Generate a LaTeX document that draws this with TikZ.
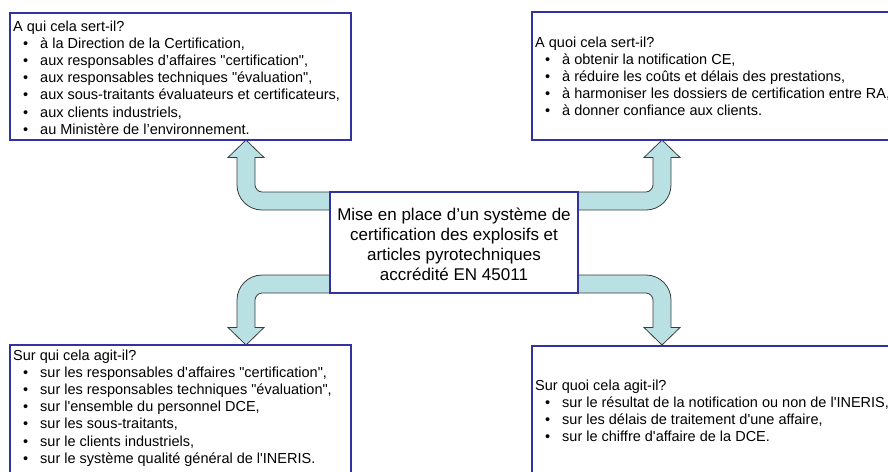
\documentclass[tikz,border=0pt]{standalone}
\usepackage{fontspec}
\setmainfont{Liberation Sans}[Ligatures=TeXOff]
\definecolor{boxblue}{RGB}{51,51,160}
\definecolor{arrfill}{RGB}{185,224,227}
\definecolor{arrline}{RGB}{60,60,60}
\newcommand\bul{\hspace*{10pt}\makebox[17pt][l]{\textbullet}}
\tikzset{
  box/.style={draw=boxblue, line width=2.5pt, fill=white, rectangle, inner sep=0pt},
  txt/.style={anchor=base west, inner sep=0pt, font=\fontsize{14.5}{17.2}\selectfont},
  ctxt/.style={anchor=base, inner sep=0pt, font=\fontsize{17}{20.3}\selectfont},
  bigarrow/.style={fill=arrfill, draw=arrline, line width=0.8pt, line join=miter},
}
\begin{document}
\begin{tikzpicture}[x=1pt,y=-1pt]
\useasboundingbox (0,0) rectangle (888,471);
\clip (0,0) rectangle (888,471);
\coordinate (cc) at (454,242.5);
% four bent block arrows
\foreach \sx/\sy in {1/1,-1/1,1/-1,-1/-1}{
  \begin{scope}[shift={(cc)}, xscale=\sx, yscale=\sy]
  \filldraw[bigarrow] (-124,-50.5) -- (-192,-50.5)
    .. controls (-195.9,-50.5) and (-199,-54.4) .. (-199,-57.5)
    -- (-199,-85) -- (-190,-85) -- (-208,-102.5) -- (-226,-85) -- (-217,-85)
    -- (-217,-57.5)
    .. controls (-217,-43.7) and (-205.8,-32.5) .. (-192,-32.5)
    -- (-124,-32.5) -- cycle;
  \end{scope}
}
% centre box
\node[box, minimum width=248pt, minimum height=101pt] (c) at (cc) {};
\node[ctxt] (ct) at (454,220) {\begin{tabular}[t]{@{}c@{}}Mise en place d’un système de\\certification des explosifs et\\articles pyrotechniques\\accrédité EN 45011\end{tabular}};
% top-left box
\node[box, minimum width=341pt, minimum height=127pt] (tl) at (180.5,76.5) {};
\node[txt] (tlt) at (13,31) {\begin{tabular}[t]{@{}l@{}}A qui cela sert-il?\\
\bul à la Direction de la Certification,\\
\bul aux responsables d’affaires "certification",\\
\bul aux responsables techniques "évaluation",\\
\bul aux sous-traitants évaluateurs et certificateurs,\\
\bul aux clients industriels,\\
\bul au Ministère de l’environnement.\end{tabular}};
% top-right box
\node[box, minimum width=380pt, minimum height=128pt] (tr) at (722,76) {};
\node[txt] (trt) at (535,47) {\begin{tabular}[t]{@{}l@{}}A quoi cela sert-il?\\
\bul à obtenir la notification CE,\\
\bul à réduire les coûts et délais des prestations,\\
\bul à harmoniser les dossiers de certification entre RA,\\
\bul à donner confiance aux clients.\end{tabular}};
% bottom-left box
\node[box, minimum width=341pt, minimum height=140pt] (bl) at (180.5,415) {};
\node[txt] (blt) at (13,360) {\begin{tabular}[t]{@{}l@{}}Sur qui cela agit-il?\\
\bul sur les responsables d'affaires "certification",\\
\bul sur les responsables techniques "évaluation",\\
\bul sur l'ensemble du personnel DCE,\\
\bul sur les sous-traitants,\\
\bul sur le clients industriels,\\
\bul sur le système qualité général de l'INERIS.\end{tabular}};
% bottom-right box
\node[box, minimum width=380pt, minimum height=140pt] (br) at (722,416) {};
\node[txt] (brt) at (535,390) {\begin{tabular}[t]{@{}l@{}}Sur quoi cela agit-il?\\
\bul sur le résultat de la notification ou non de l'INERIS,\\
\bul sur les délais de traitement d'une affaire,\\
\bul sur le chiffre d'affaire de la DCE.\end{tabular}};
\end{tikzpicture}
\end{document}
